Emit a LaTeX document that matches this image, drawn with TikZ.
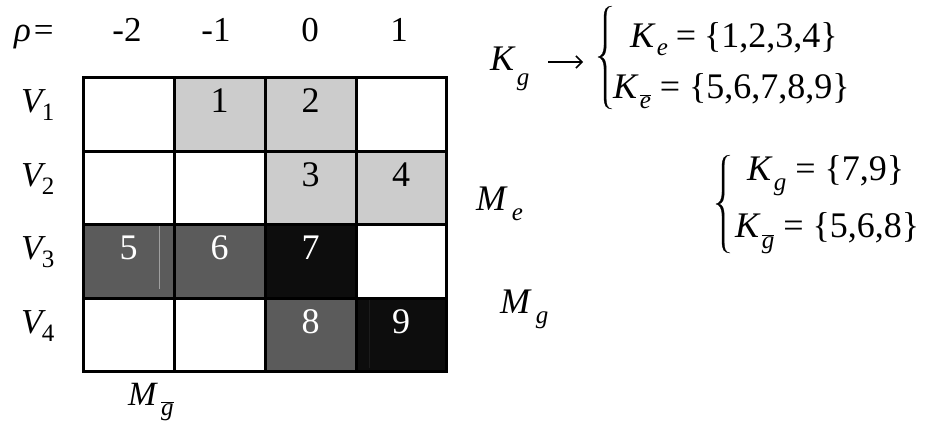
\documentclass[tikz,border=0pt]{standalone}
\usepackage{fontspec}
\setmainfont{Liberation Serif}
\usetikzlibrary{arrows.meta}
\newcommand\sbs[2][9pt]{\raisebox{-#1}{\fontsize{25}{25}\selectfont #2}}
\newcommand\ovl[1]{$\overline{\hbox{#1}}$}
\definecolor{lgray}{HTML}{CCCCCC}
\definecolor{dgray}{HTML}{5B5B5B}
\definecolor{blk}{HTML}{0D0D0D}
\definecolor{faint}{HTML}{1C1C1C}
\tikzset{
  gridline/.style={line width=3pt, black},
  dig/.style={anchor=base, inner sep=0pt, font=\fontsize{36}{36}\selectfont},
  wdig/.style={dig, text=white},
  toplab/.style={anchor=base, inner sep=0pt, font=\fontsize{35}{35}\selectfont},
  vlab/.style={anchor=base west, inner sep=0pt, font=\fontsize{35}{35}\selectfont},
  eq/.style={anchor=base west, inner sep=0pt, font=\fontsize{36}{36}\selectfont},
  bracefill/.style={fill=black, draw=black, line width=0.3pt},
  maparrow/.style={line width=1.5pt, -{Straight Barb[length=6pt,width=12pt,line width=1.5pt]}}
}
\newcommand\mybrace[4]{% spine x, top y, mid y, bottom y
  \fill[bracefill] (#1+8,#2) .. controls (#1+3.2,#2+0.6) and (#1+2.2,#2+4) .. (#1+2.2,#2+12)
    -- (#1+2.2,#3-12) .. controls (#1+2.2,#3-4) and (#1+0.5,#3-1) .. (#1-3,#3)
    .. controls (#1+0.5,#3+1) and (#1+2.2,#3+4) .. (#1+2.2,#3+12)
    -- (#1+2.2,#4-12) .. controls (#1+2.2,#4-4) and (#1+3.2,#4-0.6) .. (#1+8,#4)
    .. controls (#1+1.5,#4-0.2) and (#1,#4-4) .. (#1,#4-12)
    -- (#1,#3+12) .. controls (#1,#3+4) and (#1-2.5,#3+0.6) .. (#1-6,#3)
    .. controls (#1-2.5,#3-0.6) and (#1,#3-4) .. (#1,#3-12)
    -- (#1,#2+12) .. controls (#1,#2+4) and (#1+1.5,#2+0.2) .. (#1+8,#2) -- cycle;}
\begin{document}
\begin{tikzpicture}[x=1pt,y=-1pt]
\useasboundingbox (0,0) rectangle (929,421);
\fill[white] (0,0) rectangle (929,421);
% cell fills
\fill[lgray] (174,77) rectangle (356,151);
\fill[lgray] (265,151) rectangle (446,224);
\fill[dgray] (83,224) rectangle (265,298);
\fill[blk] (265,224) rectangle (356,298);
\fill[dgray] (265,298) rectangle (356,371);
\fill[blk] (356,298) rectangle (446,371);
\draw[color=gray!75, line width=1pt] (159,225) -- (159,289);
\draw[color=faint, line width=1pt] (369,300) -- (369,368);
% grid
\draw[gridline] (83,77) rectangle (446,371);
\foreach \gx in {174,265,356} \draw[gridline] (\gx,77) -- (\gx,371);
\foreach \gy in {151,224,298} \draw[gridline] (83,\gy) -- (446,\gy);
% top labels
\node[toplab, anchor=base west] (rho) at (14,41) {\textit{ρ}\kern3pt=};
\node[toplab] (r1) at (127,41) {-2};
\node[toplab] (r2) at (216,41) {-1};
\node[toplab] (r3) at (310,41) {0};
\node[toplab] (r4) at (399,41) {1};
% row labels
\node[vlab] (v1) at (21,112) {\textit{V}\kern-4pt\sbs[8pt]{1}};
\node[vlab] (v2) at (21,186) {\textit{V}\kern-4pt\sbs[8pt]{2}};
\node[vlab] (v3) at (21,259) {\textit{V}\kern-4pt\sbs[8pt]{3}};
\node[vlab] (v4) at (21,333) {\textit{V}\kern-4pt\sbs[8pt]{4}};
% cell numbers
\node[dig] (n1) at (219.5,112) {1};
\node[dig] (n2) at (310.5,112) {2};
\node[dig] (n3) at (310.5,186) {3};
\node[dig] (n4) at (401,186) {4};
\node[wdig] (n5) at (128.5,259) {5};
\node[wdig] (n6) at (219.5,259) {6};
\node[wdig] (n7) at (310.5,259) {7};
\node[wdig] (n8) at (310.5,333) {8};
\node[wdig] (n9) at (401,333) {9};
% right side equations
\node[eq] (kg) at (490,70) {\textit{K}\kern1pt\sbs[15pt]{\textit{g}}};
\coordinate (a0) at (548,62);
\coordinate (a1) at (583,62);
\draw[maparrow] (a0) -- (a1);
\mybrace{604}{6}{57}{109}
\node[eq] (e1) at (630,47) {\textit{K}\kern1pt\sbs[8pt]{\textit{e}}\kern8pt=\kern8pt\{1,2,3,4\}};
\node[eq] (e2) at (613,98) {\textit{K}\kern1pt\sbs[10pt]{\ovl{\textit{e}}} = \{5,6,7,8,9\}};
\mybrace{722}{155}{204}{253}
\node[eq] (f1) at (747,180) {\textit{K}\kern1pt\sbs[10pt]{\textit{g}} = \{7,9\}};
\node[eq] (f2) at (735,237) {\textit{K}\kern1pt\sbs[11pt]{\ovl{\textit{g}}} = \{5,6,8\}};
% M labels
\node[eq] (me) at (476,210) {\textit{M}\kern4pt\sbs[10pt]{\textit{e}}};
\node[eq] (mg) at (500,313) {\textit{M}\kern4pt\sbs[10pt]{\textit{g}}};
\node[eq, font=\fontsize{34}{34}\selectfont] (mgb) at (128,405) {\textit{M}\kern3pt\sbs[10pt]{\ovl{\textit{g}}}};
\end{tikzpicture}
\end{document}
